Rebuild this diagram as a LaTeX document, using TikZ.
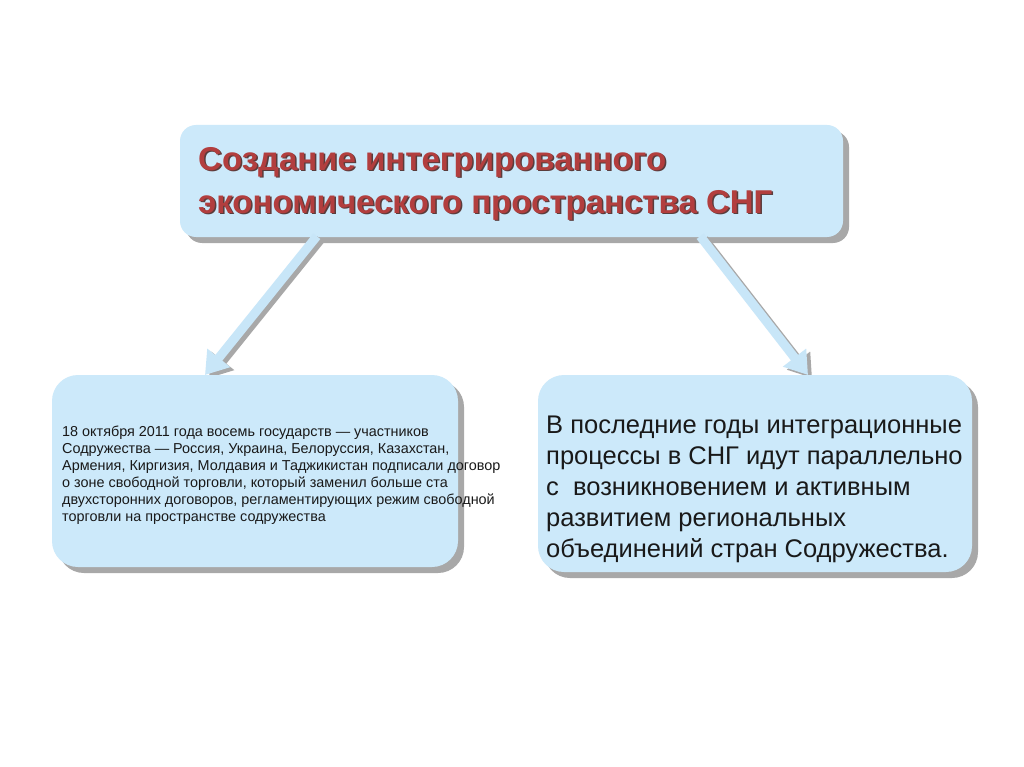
\documentclass[tikz,border=0pt]{standalone}
\usepackage{fontspec}
\setmainfont{Liberation Sans}
\usetikzlibrary{calc,arrows.meta,shadows}
\definecolor{boxblue}{RGB}{204,233,250}
\definecolor{arrowblue}{RGB}{200,230,248}
\definecolor{shadowgray}{RGB}{168,168,168}
\definecolor{titlered}{RGB}{178,62,62}
\definecolor{titleshade}{RGB}{90,60,60}
\begin{document}
\begin{tikzpicture}[x=1pt,y=-1pt,
  box/.style={draw=none, fill=boxblue, rounded corners=#1, inner sep=0pt,
    drop shadow={shadow xshift=6pt, shadow yshift=-6pt, fill=shadowgray, opacity=1}},
  bigarrow/.style={line width=9pt, draw=arrowblue, -{Triangle[width=28pt,length=22pt,fill=arrowblue]}},
  arrowshade/.style={line width=9pt, draw=shadowgray, -{Triangle[width=28pt,length=22pt,fill=shadowgray]},
    transform canvas={shift={(4pt,-3pt)}}},
  txt/.style={anchor=north west, inner sep=0pt, align=left}
]
\fill[white] (0,0) rectangle (1024,767);
\useasboundingbox (0,0) rectangle (1024,767);

% top box
\node[box=16pt, minimum width=663pt, minimum height=112pt] (top) at (511.5,181) {};
\node[txt, font=\fontsize{33}{43}\selectfont\bfseries, text=titleshade] (titleshadow) at (199.5,148.5)
  {Создание интегрированного\\экономического пространства СНГ};
\node[txt, font=\fontsize{33}{43}\selectfont\bfseries, text=titlered] (title) at (198,147)
  {Создание интегрированного\\экономического пространства СНГ};

% anchor points for arrows
\coordinate (a1s) at ($(top.south west)+(137,-1)$);
\coordinate (a2s) at ($(top.south east)+(-143,-1)$);
\coordinate (lefttop) at (52,375);
\coordinate (righttop) at (538,375);
\coordinate (a1e) at ($(lefttop)+(153,0)$);
\coordinate (a2e) at ($(righttop)+(270,0)$);

\draw[arrowshade] (a1s) -- (a1e);
\draw[arrowshade] (a2s) -- (a2e);
\draw[bigarrow] (a1s) -- (a1e);
\draw[bigarrow] (a2s) -- (a2e);

% lower boxes
\node[box=26pt, minimum width=406pt, minimum height=192pt] (left) at (255,471) {};
\node[box=26pt, minimum width=434pt, minimum height=197pt] (right) at (755,473.5) {};

\node[txt, font=\fontsize{14.4}{17}\selectfont, text=black!90] (ltext) at (62,426)
  {18 октября 2011 года восемь государств — участников\\Содружества — Россия, Украина, Белоруссия, Казахстан,\\Армения, Киргизия, Молдавия и Таджикистан подписали договор\\о зоне свободной торговли, который заменил больше ста\\двухсторонних договоров, регламентирующих режим свободной\\торговли на пространстве содружества};

\node[txt, font=\fontsize{25.5}{31}\selectfont, text=black!90] (rtext) at (546,416)
  {В последние годы интеграционные\\процессы в СНГ идут параллельно\\с\ \ возникновением и активным\\развитием региональных\\объединений стран Содружества.};
\end{tikzpicture}
\end{document}
